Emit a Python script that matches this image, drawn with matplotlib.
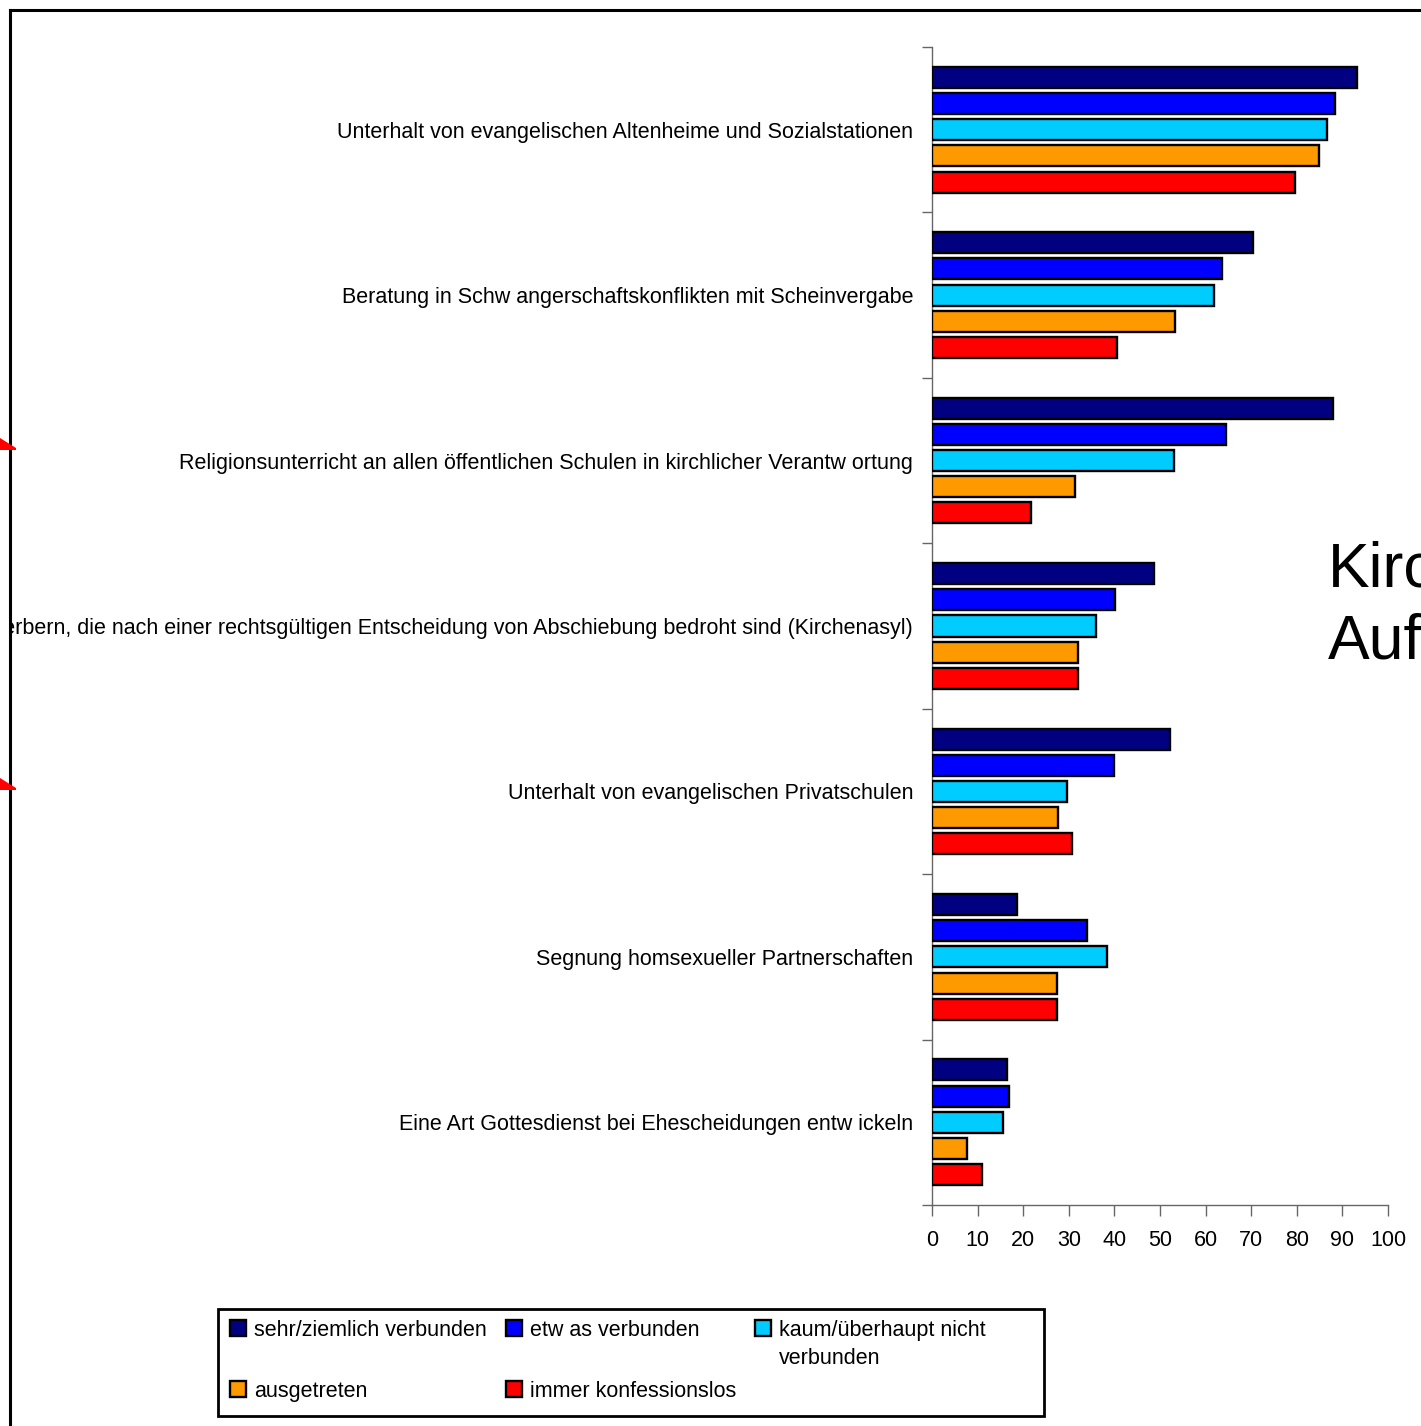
import numpy as np
import matplotlib
matplotlib.use("Agg")
import matplotlib.pyplot as plt
from matplotlib.patches import Rectangle, Polygon
from matplotlib.lines import Line2D

plt.rcParams['font.family'] = ['Liberation Sans', 'DejaVu Sans']

# ---------------- data ----------------
categories = [
    "Unterhalt von evangelischen Altenheime und Sozialstationen",
    "Beratung in Schw angerschaftskonflikten mit Scheinvergabe",
    "Religionsunterricht an allen öffentlichen Schulen in kirchlicher Verantw ortung",
    "Schutz von Asylbewerbern, die nach einer rechtsgültigen Entscheidung von Abschiebung bedroht sind (Kirchenasyl)",
    "Unterhalt von evangelischen Privatschulen",
    "Segnung homsexueller Partnerschaften",
    "Eine Art Gottesdienst bei Ehescheidungen entw ickeln",
]
series_names = ["sehr/ziemlich verbunden", "etw as verbunden",
                "kaum/überhaupt nicht\nverbunden", "ausgetreten",
                "immer konfessionslos"]
sehr = [93.1, 70.3, 87.9, 48.7, 52.2, 18.6, 16.4]
etwas = [88.3, 63.6, 64.5, 40.1, 39.9, 34.0, 16.9]
kaum = [86.6, 61.8, 53.1, 36.0, 29.6, 38.4, 15.6]
ausgetreten = [84.9, 53.3, 31.4, 32.0, 27.6, 27.4, 7.7]
konfessionslos = [79.6, 40.6, 21.7, 32.0, 30.7, 27.4, 11.0]
colors = ["#000080", "#0000FF", "#00CCFF", "#FF9900", "#FF0000"]
x_ticks = list(range(0, 101, 10))

W, H = 1421, 1426
fig = plt.figure(figsize=(W / 100, H / 100), dpi=100)
fig.patch.set_facecolor("white")

def fx(px):
    return px / W

def fy(py):
    return 1 - py / H

ax = fig.add_axes([fx(932), fy(1205), fx(1388) - fx(932), fy(47) - fy(1205)])

y = np.arange(len(categories))
step = 0.1583
bh = 0.127
all_series = [sehr, etwas, kaum, ausgetreten, konfessionslos]
for i, (vals, c) in enumerate(zip(all_series, colors)):
    ax.barh(y + (i - 2) * step, vals, height=bh, color=c,
            edgecolor="black", linewidth=1.7, zorder=3)

ax.set_xlim(0, 100)
ax.set_ylim(len(categories) - 0.5, -0.5)
for s in ["top", "right"]:
    ax.spines[s].set_visible(False)
for s in ["left", "bottom"]:
    ax.spines[s].set_color("#666666")
    ax.spines[s].set_linewidth(1.0)

ax.set_xticks(x_ticks)
ax.tick_params(axis="x", direction="out", length=8, width=1, color="#666666",
               labelsize=15.5, pad=10)
ax.set_yticks(np.arange(-0.5, len(categories), 1.0))
ax.set_yticklabels([])
ax.tick_params(axis="y", which="major", direction="out", length=7.5, width=1,
               color="#666666")
ax.set_yticks(y, minor=True)
ax.set_yticklabels(categories, minor=True)
ax.tick_params(axis="y", which="minor", length=0, labelsize=15.5, pad=13.5)

# mask everything left of the frame
fig.add_artist(Rectangle((0, 0), fx(9), 1, transform=fig.transFigure,
                         facecolor="white", edgecolor="none", zorder=10))

# frame lines
fig.add_artist(Line2D([fx(10), fx(10)], [fy(10), 0], transform=fig.transFigure,
                      color="black", linewidth=2.2, zorder=11))
fig.add_artist(Line2D([fx(10), 1], [fy(10), fy(10)], transform=fig.transFigure,
                      color="black", linewidth=2.2, zorder=11))

# red arrow tips on the left edge
for top, tip, bot in [(438, 448, 450), (778, 788, 790)]:
    fig.add_artist(Polygon([(0, fy(top)), (fx(16), fy(tip)), (fx(16), fy(bot)),
                            (0, fy(bot))], closed=True, transform=fig.transFigure,
                           facecolor="red", edgecolor="none", zorder=12))

# big text on the right, partly outside
fig.text(fx(1328), fy(606), "Kirchliche\nAufgaben", fontsize=45, ha="left",
         va="center", linespacing=1.29)

# legend box
fig.add_artist(Rectangle((fx(218), fy(1416)), fx(1044) - fx(218), fy(1309) - fy(1416),
                         transform=fig.transFigure, facecolor="white",
                         edgecolor="black", linewidth=2, zorder=5))
leg_pos = [(230, 1328), (506, 1328), (755, 1328), (230, 1389), (506, 1389)]
for (px, py), name, c in zip(leg_pos, series_names, colors):
    fig.add_artist(Rectangle((fx(px), fy(py + 8)), fx(16), fy(0) - fy(16),
                             transform=fig.transFigure, facecolor=c,
                             edgecolor="black", linewidth=1.7, zorder=6))
    fig.text(fx(px + 24), fy(py - 8), name, fontsize=15.5, ha="left", va="top",
             linespacing=1.42, zorder=6)

fig.savefig("out.png", dpi=100, facecolor="white")
